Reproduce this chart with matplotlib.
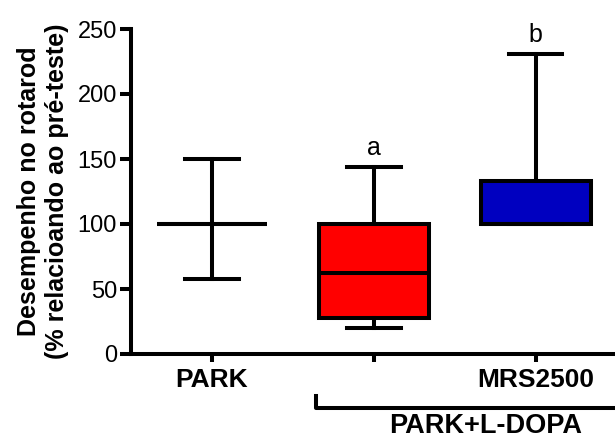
import matplotlib
matplotlib.use("Agg")
from matplotlib import pyplot as plt
from matplotlib import transforms

plt.rcParams['font.family'] = ['Liberation Sans', 'DejaVu Sans']

groups = ["PARK", "", "MRS2500"]
whislo = [58, 20, 100]
q1 = [100, 28, 100]
med = [100, 62, 100]
q3 = [100, 100, 133]
whishi = [150, 144, 231]
fills = ["none", "#ff0000", "#0000c0"]
letters = ["", "a", "b"]
group_label = "PARK+L-DOPA"

stats = []
for i in range(len(groups)):
    stats.append({"whislo": whislo[i], "q1": q1[i], "med": med[i],
                  "q3": q3[i], "whishi": whishi[i], "fliers": []})

fig = plt.figure(figsize=(6.15, 4.38), dpi=100)
ax = fig.add_axes([131 / 615, 84 / 438, 484 / 615, 325 / 438])

pos = [1, 2, 3]
lw = 2.9
art = ax.bxp(stats, positions=pos, widths=0.68, patch_artist=True,
             showfliers=False, capwidths=0.33,
             boxprops=dict(linewidth=lw, edgecolor="black"),
             medianprops=dict(color="black", linewidth=lw),
             whiskerprops=dict(color="black", linewidth=lw),
             capprops=dict(color="black", linewidth=lw))
for patch, c in zip(art["boxes"], fills):
    patch.set_facecolor(c)

for x, top, t in zip(pos, whishi, letters):
    ax.text(x, top + 5, t, ha="center", va="bottom", fontsize=18)

ax.set_xlim(0.5, 3.49)
ax.set_ylim(0, 250)
ax.set_yticks([0, 50, 100, 150, 200, 250])
ax.set_xticks(pos)
ax.set_xticklabels(groups, fontweight="bold", fontsize=19)
ax.tick_params(axis="y", labelsize=17, width=lw, length=8, direction="out", pad=2)
ax.tick_params(axis="x", width=lw, length=6, direction="out", pad=4)
for s in ["top", "right"]:
    ax.spines[s].set_visible(False)
for s in ["left", "bottom"]:
    ax.spines[s].set_linewidth(lw)

ax.set_ylabel("Desempenho no rotarod\n(% relacioando ao pré-teste)",
              fontweight="bold", fontsize=18, labelpad=6, linespacing=1.25)

# bracket under the two L-DOPA groups
tr = transforms.blended_transform_factory(ax.transData, ax.transAxes)
ax.plot([1.64, 1.64, 3.6], [-0.13, -0.166, -0.166], color="black",
        linewidth=lw, transform=tr, clip_on=False)
ax.text(2.69, -0.222, group_label, transform=tr, ha="center", va="center",
        fontsize=19.5, fontweight="bold")

plt.savefig("out.png", dpi=100)
